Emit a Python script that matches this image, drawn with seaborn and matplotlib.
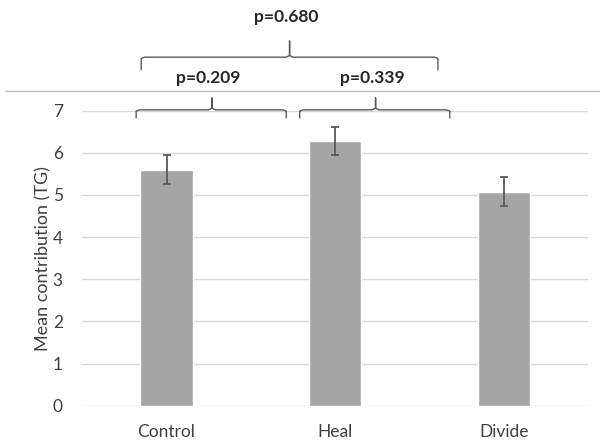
import numpy as np
import pandas as pd
import matplotlib.pyplot as plt
import seaborn as sns

# chart data
groups = ['Control', 'Heal', 'Divide']
means = [5.60, 6.28, 5.08]
errors = [0.35, 0.33, 0.34]

# pairwise comparisons: (left x, right x, tip x, level, label)
comparisons = [
    (-0.18, 0.71, 0.27, 'low', 'p=0.209'),
    (0.79, 1.68, 1.24, 'low', 'p=0.339'),
    (-0.15, 1.61, 0.73, 'high', 'p=0.680'),
]

df = pd.DataFrame({'group': groups, 'mean': means})

sns.set_style('white')
plt.rcParams['font.family'] = ['Lato', 'DejaVu Sans']

fig = plt.figure(figsize=(6, 4.48), dpi=100)
ax = fig.add_axes([0.137, 0.0944, 0.843, 0.6585])

sns.barplot(data=df, x='group', y='mean', color='#A5A5A5', saturation=1,
            width=0.31, errorbar=None, ax=ax, zorder=2)
ax.errorbar(np.arange(len(groups)), means, yerr=errors, fmt='none',
            ecolor='#595959', elinewidth=1.3, capsize=3, capthick=1.3, zorder=3)

ax.set_ylim(0, 7)
ax.set_xlim(-0.5, 2.5)
ax.set_yticks(range(8))
ax.yaxis.grid(True, color='#D9D9D9', linewidth=1)
ax.set_axisbelow(True)
for s in ax.spines.values():
    s.set_visible(False)
ax.tick_params(length=0, labelsize=12.5, colors='#404040')
ax.tick_params(axis='x', pad=13)
ax.tick_params(axis='y', pad=14)
ax.set_xlabel('')
ax.set_ylabel('Mean contribution (TG)', fontsize=13, color='#404040', labelpad=1)

# brackets
levels = {'low': (6.83, 7.02, 7.30, 7.78), 'high': (7.97, 8.27, 8.65, 9.22)}
for x0, x1, xt, lev, label in comparisons:
    yend, ybar, ytip, ytxt = levels[lev]
    r = 0.02
    xs = [x0, x0, x0 + r, xt - r, xt, xt, xt, xt + r, x1 - r, x1, x1]
    ys = [yend, ybar - 0.03, ybar, ybar, ybar + 0.04, ytip, ybar + 0.04, ybar, ybar, ybar - 0.03, yend]
    ax.plot(xs, ys, color='#595959', lw=1, clip_on=False, zorder=4)
    ax.text(xt - 0.02, ytxt, label, ha='center', va='center', fontsize=12.5,
            fontweight='bold', color='#262626', clip_on=False)

# top border line of the chart area
fig.add_artist(plt.Line2D([0.008, 1.0], [0.7975, 0.7975], color='#BFBFBF', lw=1))

fig.savefig('out.png', dpi=100)
